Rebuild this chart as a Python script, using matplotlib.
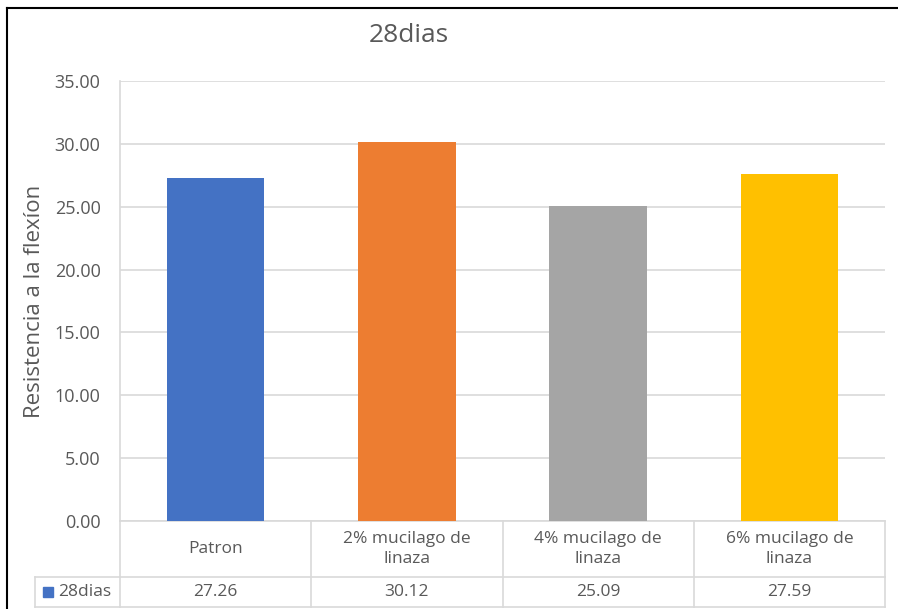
import matplotlib.pyplot as plt
from matplotlib.transforms import blended_transform_factory
from matplotlib.lines import Line2D
from matplotlib.patches import Rectangle

plt.rcParams["font.family"] = ["Open Sans", "DejaVu Sans"]

categorias = ["Patron", "2% mucilago de\nlinaza", "4% mucilago de\nlinaza", "6% mucilago de\nlinaza"]
valores = [27.26, 30.12, 25.09, 27.59]
serie = "28dias"
colores = ["#4472C4", "#ED7D31", "#A5A5A5", "#FFC000"]
ticks_y = [0, 5, 10, 15, 20, 25, 30, 35]

TXT = "#595959"
LINEA = "#D9D9D9"
FS = 12.5

fig = plt.figure(figsize=(8.98, 6.09), dpi=100)
ax = fig.add_axes([120 / 898, 1 - 521 / 609, 765 / 898, 440 / 609])

x = list(range(len(categorias)))
ax.bar(x, valores, width=0.51, color=colores, zorder=3)

ax.set_xlim(-0.5, len(categorias) - 0.5)
ax.set_ylim(0, 35)
ax.set_yticks(ticks_y)
ax.set_yticklabels([f"{t:.2f}" for t in ticks_y], color=TXT, fontsize=13)
ax.tick_params(axis="y", length=0, pad=14)
ax.set_xticks([])
ax.grid(axis="y", color=LINEA, linewidth=1.2, zorder=0)
for s in ["top", "right"]:
    ax.spines[s].set_visible(False)
for s in ["left", "bottom"]:
    ax.spines[s].set_color(LINEA)
    ax.spines[s].set_linewidth(1.2)

ax.set_ylabel("Resistencia a la flexíon", color=TXT, fontsize=16)
ax.yaxis.set_label_coords(-(120 - 45) / 765, 0.5)
fig.text(409 / 898, 1 - 36 / 609, "28dias", color=TXT, fontsize=19,
         ha="center", va="center")

# data table under the axis
tr = blended_transform_factory(ax.transData, ax.transAxes)
y_cab = -56 / 440
y_fin = -86 / 440
x_izq = -0.944
x_der = len(categorias) - 0.5

def linea(xs, ys):
    ax.add_line(Line2D(xs, ys, transform=tr, color=LINEA, linewidth=1.2, clip_on=False))

linea([-0.5, x_der], [y_cab, y_cab])
linea([x_izq, x_der], [y_fin, y_fin])
linea([x_izq, -0.5], [y_cab, y_cab])
linea([x_izq, x_izq], [y_cab, y_fin])
for b in range(len(categorias) + 1):
    linea([b - 0.5, b - 0.5], [0, y_fin])

for i, (c, v) in enumerate(zip(categorias, valores)):
    ax.text(i, y_cab / 2, c, transform=tr, ha="center", va="center",
            color=TXT, fontsize=FS, linespacing=1.3)
    ax.text(i, (y_cab + y_fin) / 2, f"{v:.2f}", transform=tr, ha="center",
            va="center", color=TXT, fontsize=FS)

y_med = (y_cab + y_fin) / 2
ax.add_patch(Rectangle((x_izq + 0.042, y_med - 5 / 440), 10 / 191.25, 10 / 440,
                       transform=tr, color=colores[0], clip_on=False))
ax.text(x_izq + 0.118, y_med, serie, transform=tr, ha="left",
        va="center", color=TXT, fontsize=FS)

# outer frame of the chart
fig.add_artist(Line2D([7 / 898, 7 / 898], [0, 1 - 8 / 609], color="black", linewidth=1.5))
fig.add_artist(Line2D([7 / 898, 1], [1 - 8 / 609, 1 - 8 / 609], color="black", linewidth=1.5))

fig.savefig("out.png", dpi=100)
